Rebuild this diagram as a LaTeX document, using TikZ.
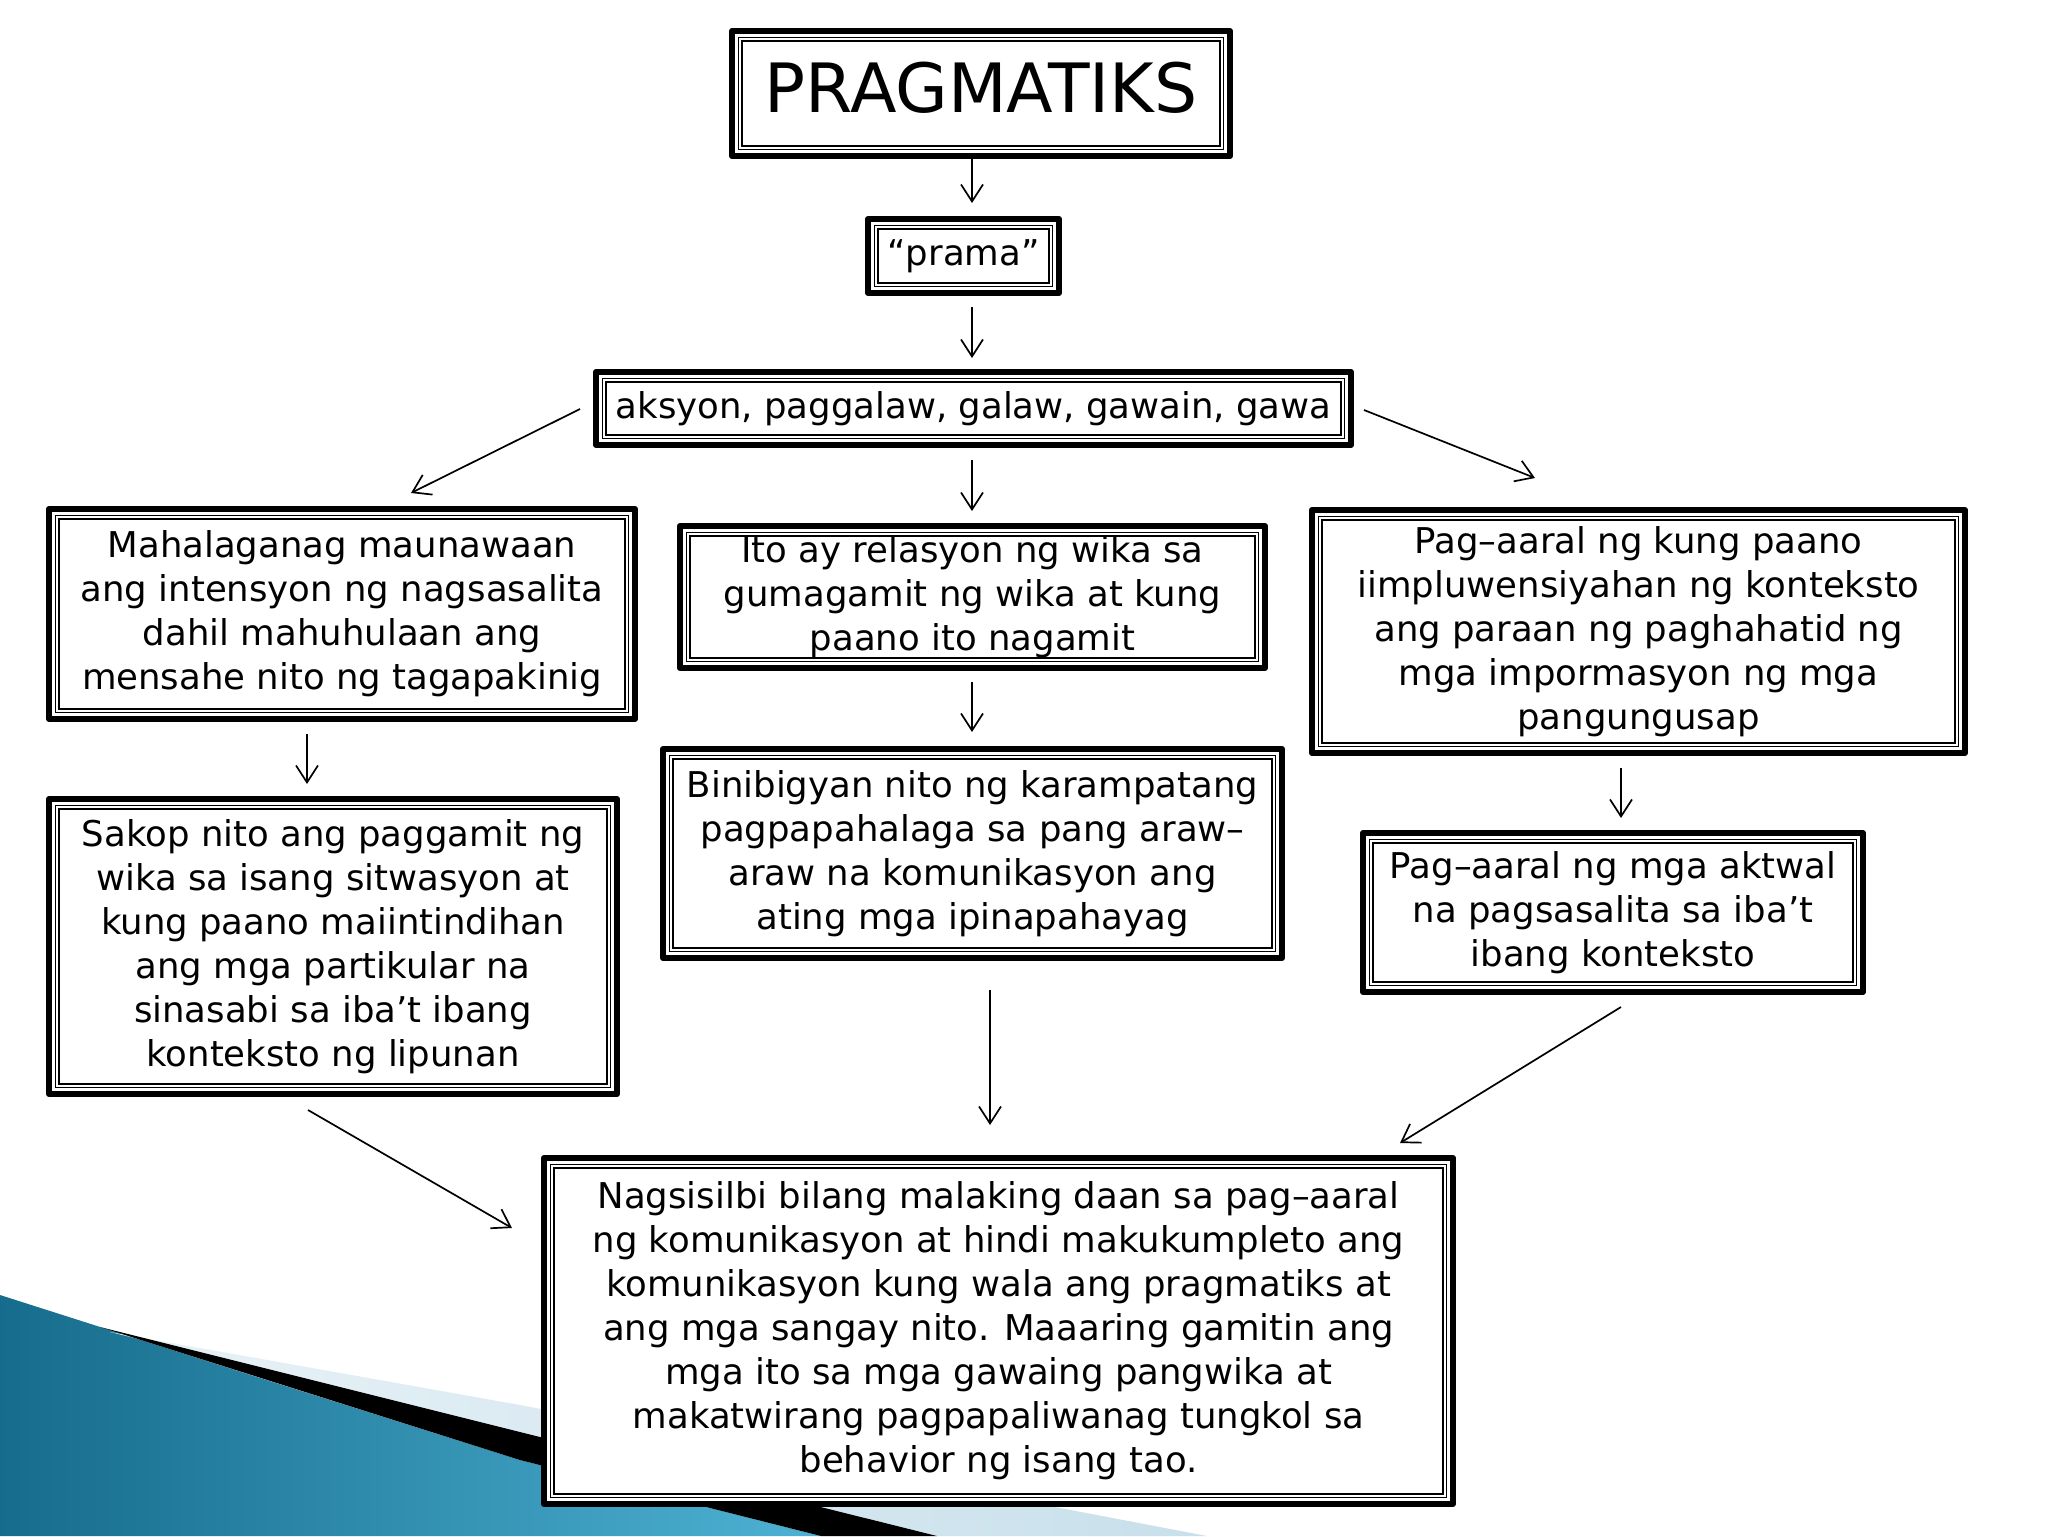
\documentclass[tikz,border=0pt]{standalone}
\usepackage{fontspec}
\setmainfont{DejaVu Sans}
\usetikzlibrary{arrows.meta}
\newcommand\bodyfont{\fontsize{17.75pt}{22pt}\selectfont}
\newcommand\titlefont{\fontsize{34pt}{40pt}\selectfont}
\newcommand\innerframe[1]{\draw[innerline] ([shift={(4.1pt,-4.1pt)}]#1.north west) rectangle ([shift={(-4.1pt,4.1pt)}]#1.south east);}
\definecolor{tealA}{RGB}{22,108,140}
\definecolor{tealB}{RGB}{78,178,212}
\definecolor{paleA}{RGB}{232,242,247}
\definecolor{paleB}{RGB}{200,224,235}
\tikzset{
  box/.style={draw, line width=3pt, line join=round, fill=white, inner sep=0pt, outer sep=0pt, align=center, font=\bodyfont},
  innerline/.style={line width=0.75pt, double distance=0.85pt},
  arr/.style={line width=0.85pt, -{Straight Barb[length=8.5pt,width=11pt]}}
}
\begin{document}
\begin{tikzpicture}[x=0.5pt,y=-0.5pt]
\useasboundingbox (0,0) rectangle (2048,1536);
\fill[white] (0,0) rectangle (2048,1536);
% decoration bottom-left
\shade[left color=tealA, right color=tealB] (0,1295) -- (260,1378) -- (520,1460) -- (821,1536) -- (0,1536) -- cycle;
\shade[left color=paleA, right color=paleB] (110,1332) -- (520,1405) -- (1207,1536) -- (937,1536) -- (520,1432) -- cycle;
\fill[black] (100,1327) -- (520,1432) -- (937,1536) -- (821,1536) -- (520,1460) -- cycle;
% boxes
\node[box, minimum width=249pt, minimum height=62.5pt, font=\titlefont, text depth=6pt] (title) at (981,93.5) {PRAGMATIKS};
\node[box, minimum width=95.5pt, minimum height=37pt] (prama) at (963.5,256) {“prama”};
\node[box, minimum width=377.5pt, minimum height=36.5pt] (aksyon) at (973.5,408.5) {aksyon, paggalaw, galaw, gawain, gawa};
\node[box, minimum width=293pt, minimum height=105pt] (mah) at (342,614) {Mahalaganag maunawaan\\ang intensyon ng nagsasalita\\dahil mahuhulaan ang\\mensahe nito ng tagapakinig};
\node[box, minimum width=292.5pt, minimum height=71pt] (ito) at (972.5,597) {Ito ay relasyon ng wika sa\\gumagamit ng wika at kung\\paano ito nagamit};
\node[box, minimum width=326.5pt, minimum height=121.5pt] (pagA) at (1638.5,631.5) {Pag–aaral ng kung paano\\iimpluwensiyahan ng konteksto\\ang paraan ng paghahatid ng\\mga impormasyon ng mga\\pangungusap};
\node[box, minimum width=284pt, minimum height=147.5pt] (sakop) at (333,946.5) {Sakop nito ang paggamit ng\\wika sa isang sitwasyon at\\kung paano maiintindihan\\ang mga partikular na\\sinasabi sa iba’t ibang\\konteksto ng lipunan};
\node[box, minimum width=309.5pt, minimum height=104.5pt] (bini) at (972.5,853.5) {Binibigyan nito ng karampatang\\pagpapahalaga sa pang araw–\\araw na komunikasyon ang\\ating mga ipinapahayag};
\node[box, minimum width=250pt, minimum height=79.5pt] (pagB) at (1613,912.5) {Pag–aaral ng mga aktwal\\na pagsasalita sa iba’t\\ibang konteksto};
\node[box, minimum width=454.5pt, minimum height=173pt] (nag) at (998.5,1331) {Nagsisilbi bilang malaking daan sa pag–aaral\\ng komunikasyon at hindi makukumpleto ang\\komunikasyon kung wala ang pragmatiks at\\ang mga sangay nito. Maaaring gamitin ang\\mga ito sa mga gawaing pangwika at\\makatwirang pagpapaliwanag tungkol sa\\behavior ng isang tao.};
\innerframe{title}
\innerframe{prama}
\innerframe{aksyon}
\innerframe{mah}
\innerframe{ito}
\innerframe{pagA}
\innerframe{sakop}
\innerframe{bini}
\innerframe{pagB}
\innerframe{nag}
% connector end points
\coordinate (a1s) at (972,159);  \coordinate (a1e) at (972,203);
\coordinate (a2s) at (972,307);  \coordinate (a2e) at (972,358);
\coordinate (a3s) at (580,409);  \coordinate (a3e) at (411,493);
\coordinate (a4s) at (972,460);  \coordinate (a4e) at (972,511);
\coordinate (a5s) at (1364,410); \coordinate (a5e) at (1535,478);
\coordinate (a6s) at (307,734);  \coordinate (a6e) at (307,784);
\coordinate (a7s) at (972,682);  \coordinate (a7e) at (972,732);
\coordinate (a8s) at (1621,768); \coordinate (a8e) at (1621,818);
\coordinate (a9s) at (308,1110); \coordinate (a9e) at (512,1228);
\coordinate (a10s) at (990,990); \coordinate (a10e) at (990,1125);
\coordinate (a11s) at (1621,1007); \coordinate (a11e) at (1400,1143);
\draw[arr] (a1s) -- (a1e);
\draw[arr] (a2s) -- (a2e);
\draw[arr] (a3s) -- (a3e);
\draw[arr] (a4s) -- (a4e);
\draw[arr] (a5s) -- (a5e);
\draw[arr] (a6s) -- (a6e);
\draw[arr] (a7s) -- (a7e);
\draw[arr] (a8s) -- (a8e);
\draw[arr] (a9s) -- (a9e);
\draw[arr] (a10s) -- (a10e);
\draw[arr] (a11s) -- (a11e);
\end{tikzpicture}
\end{document}
